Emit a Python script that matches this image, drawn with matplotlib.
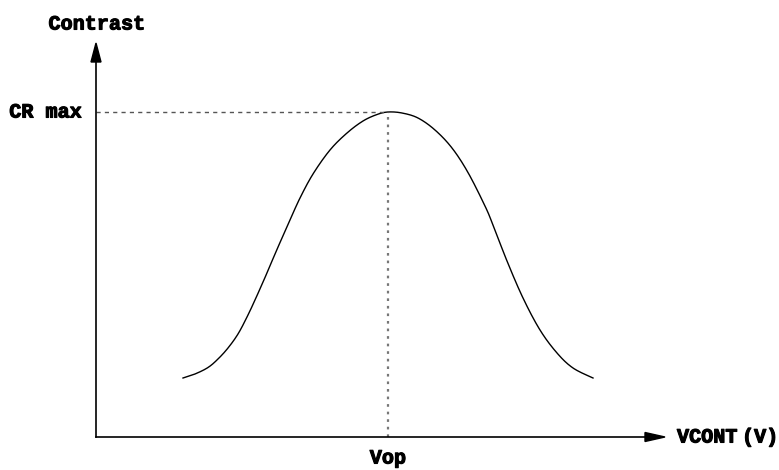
import numpy as np
import matplotlib
matplotlib.use("Agg")
import matplotlib.pyplot as plt
import matplotlib.patheffects as pe

# Curve samples (x: VCONT arbitrary units, y: contrast arbitrary units)
curve_x = [87, 99, 112, 122, 132, 142, 151, 159, 169, 179, 186, 194, 204, 217,
           234, 251, 267, 281, 292, 306, 322, 339, 356, 372, 389, 397, 411, 427,
           444, 461, 477, 497]
curve_y = [59, 63, 69.5, 78, 89, 103, 120, 137, 159.5, 183, 199, 217, 239, 263,
           287, 304, 316, 322.5, 325, 324, 319, 307, 289, 264.5, 231, 212, 176, 139,
           107, 84, 69, 59]
vop_x = 292
cr_max = 325
x_axis_end = 569
y_axis_end = 394

labels = {"y": "Contrast", "x1": "VCONT", "x2": "(V)", "peak": "CR max", "vop": "Vop"}


def catmull_rom(xs, ys, n=20):
    p = np.column_stack([xs, ys]).astype(float)
    p = np.vstack([p[0], p, p[-1]])
    out = []
    t = np.linspace(0, 1, n, endpoint=False)[:, None]
    for i in range(1, len(p) - 2):
        p0, p1, p2, p3 = p[i - 1], p[i], p[i + 1], p[i + 2]
        seg = 0.5 * ((2 * p1) + (-p0 + p2) * t + (2 * p0 - 5 * p1 + 4 * p2 - p3) * t ** 2
                     + (-p0 + 3 * p1 - 3 * p2 + p3) * t ** 3)
        out.append(seg)
    out.append(p[-2][None, :])
    out = np.vstack(out)
    return out[:, 0], out[:, 1]


fig = plt.figure(figsize=(7.79, 4.70), dpi=100)
ax = fig.add_axes([0, 0, 1, 1])
ax.set_xlim(-96, 683)
ax.set_ylim(-33, 437)
ax.axis("off")

sx, sy = catmull_rom(curve_x, curve_y)
ax.plot(sx, sy, color="black", lw=1.0)

# guide lines
ax.plot([0, vop_x], [cr_max, cr_max], color="#555555", lw=1.0, linestyle=(0, (3, 3)))
ax.plot([vop_x, vop_x], [0, cr_max], color="#777777", lw=1.6, linestyle=(0, (1.2, 2.2)))

# axes with arrows
ax.plot([0, 0], [0, y_axis_end - 18], color="black", lw=1.2)
ax.plot([0, x_axis_end - 18], [0, 0], color="black", lw=1.2)
ax.fill([-5, 5, 0], [y_axis_end - 19, y_axis_end - 19, y_axis_end], color="black")
ax.fill([x_axis_end - 20, x_axis_end - 20, x_axis_end], [-4.5, 4.5, 0], color="black")

font = dict(family="Liberation Mono", weight="bold", fontsize=14.5, color="black")
eff = [pe.withStroke(linewidth=0.8, foreground="black")]
ax.text(1, 413, labels["y"], ha="center", va="center", path_effects=eff, **font)
ax.text(-14, 325, labels["peak"], ha="right", va="center", path_effects=eff, **font)
ax.text(vop_x, -21, labels["vop"], ha="center", va="center", path_effects=eff, **font)
ax.text(581, 0, labels["x1"], ha="left", va="center", path_effects=eff, **font)
ax.text(646, 0, labels["x2"], ha="left", va="center", path_effects=eff, **font)

fig.savefig("out.png", dpi=100)
